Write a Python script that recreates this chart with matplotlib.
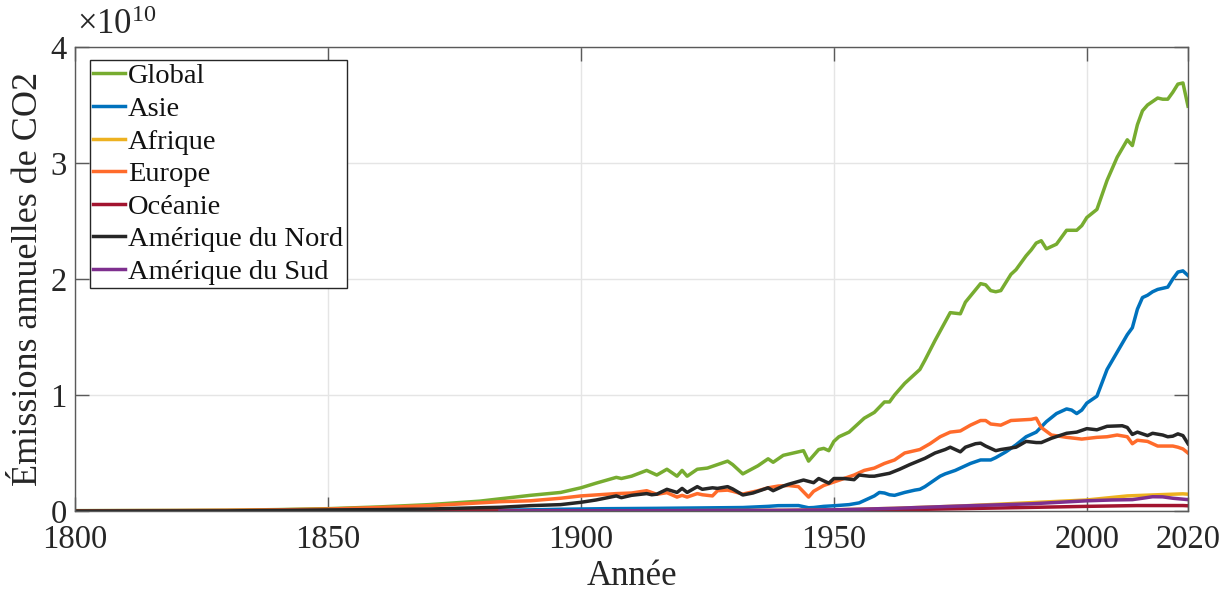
import matplotlib
matplotlib.use("Agg")
import matplotlib.pyplot as plt
import numpy as np

SCALE = 1e10

# ---------------- data (values in units of 1e10 t CO2) ----------------
global_years = [1800, 1820, 1830, 1840, 1850, 1860, 1870, 1880, 1884, 1890, 1896, 1900, 1903,
                1907, 1908, 1910, 1913, 1915, 1917, 1919, 1920, 1921, 1923, 1925, 1927, 1929,
                1930, 1932, 1935, 1937, 1938, 1940, 1942, 1944, 1945, 1947, 1948, 1949, 1950,
                1951, 1953, 1955, 1956, 1958, 1960, 1961, 1962, 1964, 1966, 1967, 1968, 1970,
                1971, 1973, 1975, 1976, 1979, 1980, 1981, 1982, 1983, 1985, 1986, 1988, 1989,
                1990, 1991, 1992, 1994, 1996, 1998, 1999, 2000, 2002, 2004, 2006, 2008, 2009,
                2010, 2011, 2012, 2014, 2015, 2016, 2017, 2018, 2019, 2020]
global_vals = [0.003, 0.005, 0.007, 0.012, 0.02, 0.035, 0.055, 0.085, 0.105, 0.135, 0.16, 0.20, 0.24,
               0.29, 0.28, 0.30, 0.35, 0.31, 0.36, 0.30, 0.35, 0.30, 0.36, 0.37, 0.40, 0.43,
               0.40, 0.32, 0.39, 0.45, 0.42, 0.48, 0.50, 0.52, 0.43, 0.53, 0.54, 0.52, 0.60,
               0.64, 0.68, 0.76, 0.80, 0.85, 0.94, 0.94, 1.00, 1.10, 1.18, 1.22, 1.30, 1.47,
               1.55, 1.71, 1.70, 1.80, 1.96, 1.95, 1.90, 1.89, 1.90, 2.04, 2.08, 2.20, 2.25,
               2.31, 2.33, 2.26, 2.30, 2.42, 2.42, 2.46, 2.53, 2.60, 2.85, 3.05, 3.20, 3.15,
               3.33, 3.45, 3.50, 3.56, 3.55, 3.55, 3.61, 3.68, 3.69, 3.49]

asia_years = [1800, 1850, 1870, 1880, 1890, 1896, 1905, 1915, 1925, 1932, 1937, 1939, 1943, 1945,
              1946, 1948, 1950, 1953, 1955, 1956, 1958, 1959, 1960, 1961, 1962, 1964, 1966, 1967,
              1968, 1969, 1971, 1972, 1974, 1975, 1977, 1979, 1980, 1981, 1982, 1984, 1986, 1988,
              1990, 1992, 1994, 1996, 1997, 1998, 1999, 2000, 2002, 2004, 2006, 2008, 2009, 2010,
              2011, 2012, 2013, 2014, 2016, 2017, 2018, 2019, 2020]
asia_vals = [0.0, 0.001, 0.003, 0.005, 0.01, 0.015, 0.02, 0.023, 0.027, 0.03, 0.04, 0.046, 0.047, 0.028,
             0.03, 0.04, 0.045, 0.055, 0.07, 0.09, 0.13, 0.16, 0.155, 0.14, 0.135, 0.16, 0.18, 0.187,
             0.21, 0.24, 0.30, 0.32, 0.35, 0.37, 0.41, 0.44, 0.44, 0.44, 0.46, 0.51, 0.57, 0.64,
             0.68, 0.77, 0.84, 0.88, 0.87, 0.84, 0.87, 0.93, 0.99, 1.22, 1.37, 1.52, 1.58, 1.74,
             1.84, 1.86, 1.89, 1.91, 1.93, 2.00, 2.06, 2.07, 2.03]

africa_years = [1870, 1900, 1920, 1940, 1950, 1962, 1975, 1989, 2000, 2008, 2014, 2019, 2020]
africa_vals = [0.0, 0.001, 0.003, 0.005, 0.01, 0.023, 0.043, 0.072, 0.095, 0.13, 0.14, 0.148, 0.145]

europe_years = [1800, 1820, 1830, 1840, 1850, 1860, 1870, 1880, 1884, 1890, 1896, 1900, 1907, 1910,
                1913, 1915, 1917, 1919, 1920, 1921, 1923, 1924, 1926, 1927, 1929, 1930, 1932, 1935,
                1937, 1939, 1941, 1943, 1945, 1946, 1948, 1950, 1952, 1954, 1956, 1958, 1960, 1962,
                1964, 1966, 1967, 1969, 1971, 1973, 1975, 1977, 1979, 1980, 1981, 1983, 1985, 1987,
                1989, 1990, 1991, 1993, 1996, 1999, 2002, 2004, 2006, 2008, 2009, 2010, 2012, 2014,
                2017, 2018, 2019, 2020]
europe_vals = [0.002, 0.004, 0.006, 0.01, 0.017, 0.03, 0.046, 0.07, 0.08, 0.088, 0.11, 0.13, 0.15, 0.155,
               0.175, 0.144, 0.158, 0.12, 0.135, 0.12, 0.15, 0.14, 0.13, 0.175, 0.18, 0.17, 0.146, 0.175,
               0.20, 0.215, 0.22, 0.21, 0.12, 0.17, 0.22, 0.25, 0.28, 0.31, 0.35, 0.37, 0.41, 0.44,
               0.50, 0.52, 0.53, 0.58, 0.64, 0.68, 0.69, 0.74, 0.78, 0.78, 0.75, 0.74, 0.78, 0.785,
               0.79, 0.80, 0.72, 0.655, 0.635, 0.62, 0.635, 0.64, 0.655, 0.64, 0.58, 0.61, 0.60, 0.56,
               0.56, 0.55, 0.535, 0.50]

oceania_years = [1860, 1900, 1930, 1950, 1962, 1975, 1990, 2000, 2010, 2019, 2020]
oceania_vals = [0.0, 0.001, 0.003, 0.005, 0.01, 0.02, 0.032, 0.04, 0.047, 0.047, 0.045]

namerica_years = [1800, 1830, 1850, 1860, 1870, 1880, 1884, 1890, 1896, 1900, 1903, 1907, 1908, 1910,
                  1913, 1914, 1915, 1917, 1919, 1920, 1921, 1923, 1924, 1926, 1927, 1929, 1930, 1932,
                  1934, 1937, 1938, 1940, 1941, 1944, 1946, 1947, 1949, 1950, 1952, 1954, 1955, 1957,
                  1958, 1961, 1963, 1965, 1968, 1970, 1972, 1973, 1975, 1976, 1978, 1979, 1980, 1982,
                  1983, 1986, 1988, 1990, 1991, 1993, 1996, 1998, 2000, 2002, 2004, 2007, 2008, 2009,
                  2010, 2012, 2013, 2015, 2016, 2017, 2018, 2019, 2020]
namerica_vals = [0.0, 0.001, 0.009, 0.012, 0.017, 0.028, 0.032, 0.046, 0.055, 0.075, 0.095, 0.13, 0.115, 0.135,
                 0.15, 0.14, 0.145, 0.187, 0.16, 0.195, 0.16, 0.21, 0.187, 0.20, 0.195, 0.21, 0.19, 0.138,
                 0.155, 0.20, 0.175, 0.215, 0.23, 0.267, 0.244, 0.28, 0.24, 0.28, 0.28, 0.27, 0.31, 0.30,
                 0.30, 0.325, 0.36, 0.40, 0.454, 0.50, 0.53, 0.55, 0.51, 0.55, 0.58, 0.585, 0.56, 0.52,
                 0.53, 0.55, 0.60, 0.59, 0.59, 0.627, 0.67, 0.68, 0.71, 0.70, 0.73, 0.735, 0.72, 0.66,
                 0.68, 0.65, 0.67, 0.655, 0.64, 0.645, 0.665, 0.65, 0.58]

samerica_years = [1884, 1900, 1920, 1940, 1950, 1962, 1975, 1989, 2000, 2005, 2009, 2011, 2013, 2015,
                  2017, 2020]
samerica_vals = [0.0, 0.001, 0.003, 0.005, 0.01, 0.023, 0.043, 0.062, 0.088, 0.095, 0.098, 0.11, 0.123,
                 0.122, 0.11, 0.098]

labels = ["Global", "Asie", "Afrique", "Europe", "Océanie", "Amérique du Nord", "Amérique du Sud"]
colors = ["#77AC30", "#0072BD", "#EDB120", "#FF6B2B", "#A2142F", "#262626", "#7E2F8E"]

x_ticks = [1800, 1850, 1900, 1950, 2000, 2020]
y_ticks = [0, 1, 2, 3, 4]

series = [(global_years, global_vals), (asia_years, asia_vals), (africa_years, africa_vals),
          (europe_years, europe_vals), (oceania_years, oceania_vals),
          (namerica_years, namerica_vals), (samerica_years, samerica_vals)]

# ---------------- styling ----------------
plt.rcParams['font.family'] = ['Liberation Serif', 'DejaVu Serif']
plt.rcParams['mathtext.fontset'] = 'custom'
plt.rcParams['mathtext.rm'] = 'Liberation Serif'
plt.rcParams['mathtext.it'] = 'Liberation Serif:italic'

W, H = 1231, 592
fig = plt.figure(figsize=(W / 100, H / 100), dpi=100)
L, R, B, T = 75, 1188, 511, 47
ax = fig.add_axes([L / W, (H - B) / H, (R - L) / W, (B - T) / H])

for (yrs, vals), lab, col in zip(series, labels, colors):
    ax.plot(yrs, np.array(vals) * SCALE, color=col, lw=2.5, label=lab, solid_joinstyle='round')

ax.set_xlim(1800, 2020)
ax.set_ylim(0, 4 * SCALE)
ax.set_xticks(x_ticks)
ax.set_xticklabels([str(t) for t in x_ticks])
ax.set_yticks([t * SCALE for t in y_ticks])
ax.set_yticklabels([str(t) for t in y_ticks])

ax.grid(True, color='#E5E5E5', lw=1.0)
ax.set_axisbelow(True)
for s in ax.spines.values():
    s.set_color('#5A5A5A')
    s.set_linewidth(1.0)
ax.tick_params(direction='in', length=10, width=1.0, color='#5A5A5A', labelsize=23.5,
               labelcolor='#262626', top=True, right=True)
ax.tick_params(axis='x', pad=10)
ax.tick_params(axis='y', pad=6)

ax.set_xlabel("Année", fontsize=25, color='#262626', labelpad=3)
ax.set_ylabel("Émissions annuelles de CO2", fontsize=26, color='#262626', labelpad=4)

ax.text(0.002, 1.01, r"$\times 10^{10}$", transform=ax.transAxes, fontsize=25,
        color='#262626', ha='left', va='bottom')

leg = ax.legend(loc='upper left', bbox_to_anchor=(15 / (R - L), 1 - 13 / (B - T)),
                borderaxespad=0, fontsize=20.5, frameon=True, fancybox=False,
                handlelength=1.12, handletextpad=0.1, labelspacing=0.235,
                borderpad=0.12, framealpha=1)
leg.get_frame().set_edgecolor('#262626')
leg.get_frame().set_linewidth(1.0)
for t in leg.get_texts():
    t.set_color('#111111')

fig.savefig("out.png", dpi=100)
